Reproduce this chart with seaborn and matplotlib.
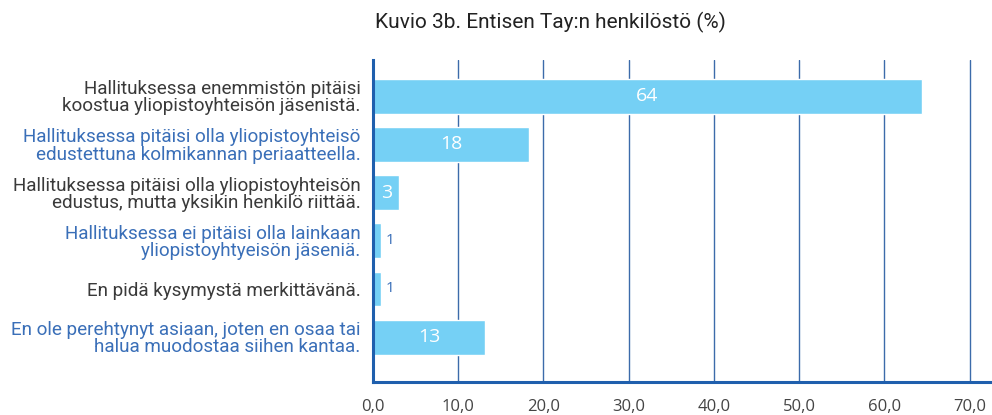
import matplotlib
matplotlib.use("Agg")
import matplotlib.pyplot as plt
import seaborn as sns
import pandas as pd

categories = [
    "Hallituksessa enemmistön pitäisi\nkoostua yliopistoyhteisön jäsenistä.",
    "Hallituksessa pitäisi olla yliopistoyhteisö\nedustettuna kolmikannan periaatteella.",
    "Hallituksessa pitäisi olla yliopistoyhteisön\nedustus, mutta yksikin henkilö riittää.",
    "Hallituksessa ei pitäisi olla lainkaan\nyliopistoyhtyeisön jäseniä.",
    "En pidä kysymystä merkittävänä.",
    "En ole perehtynyt asiaan, joten en osaa tai\nhalua muodostaa siihen kantaa.",
]
values = [64.4, 18.3, 3.1, 0.9, 0.9, 13.2]
value_labels = ["64", "18", "3", "1", "1", "13"]
x_ticks = [0, 10, 20, 30, 40, 50, 60, 70]
x_tick_labels = ["0,0", "10,0", "20,0", "30,0", "40,0", "50,0", "60,0", "70,0"]
title = "Kuvio 3b. Entisen Tay:n henkilöstö (%)"

BAR = "#75D0F5"
BLUE = "#3A6FB8"
DARK = "#3a3a3a"
GRID = "#3C6BAA"
SPINE = "#1F5FAD"

sns.set_style("white")
plt.rcParams["font.family"] = ["Roboto", "DejaVu Sans"]

df = pd.DataFrame({"cat": categories, "val": values})

fig = plt.figure(figsize=(9.92, 4.15), dpi=100)
ax = fig.add_axes([373 / 992, 1 - 382 / 415, (990 - 373) / 992, (382 - 60) / 415])

sns.barplot(data=df, y="cat", x="val", orient="h", color=BAR, saturation=1,
            width=0.72, ax=ax, zorder=2)

ax.set_xlim(0, 72.4)
ax.set_ylim(5.93, -0.75)
ax.set_xticks(x_ticks)
ax.set_xticklabels(x_tick_labels, fontsize=12, color="#444444", family=["Open Sans", "DejaVu Sans"])
ax.tick_params(axis="x", length=0, pad=12)
ax.tick_params(axis="y", length=0, pad=9)
ax.set_xlabel("")
ax.set_ylabel("")
for i, lab in enumerate(ax.get_yticklabels()):
    lab.set_color(DARK if i % 2 == 0 else BLUE)
    lab.set_fontsize(13.6)
    lab.set_linespacing(0.95)

ax.grid(axis="x", color=GRID, linewidth=1.0, zorder=0)
ax.set_axisbelow(True)
for s in ["top", "right"]:
    ax.spines[s].set_visible(False)
for s in ["left", "bottom"]:
    ax.spines[s].set_color(SPINE)
    ax.spines[s].set_linewidth(2.2)

for i, (v, t) in enumerate(zip(values, value_labels)):
    if v >= 2:
        ax.text(v / 2, i, t, ha="center", va="center", color="white",
                fontsize=14, family=["Open Sans", "DejaVu Sans"], zorder=3)
    else:
        ax.text(v + 0.6, i, t, ha="left", va="center", color=BLUE,
                fontsize=11, family=["Open Sans", "DejaVu Sans"], zorder=3)

fig.text(550 / 992, 1 - 22 / 415, title, ha="center", va="center",
         fontsize=15, color="#222222")

fig.savefig("out.png", dpi=100)
